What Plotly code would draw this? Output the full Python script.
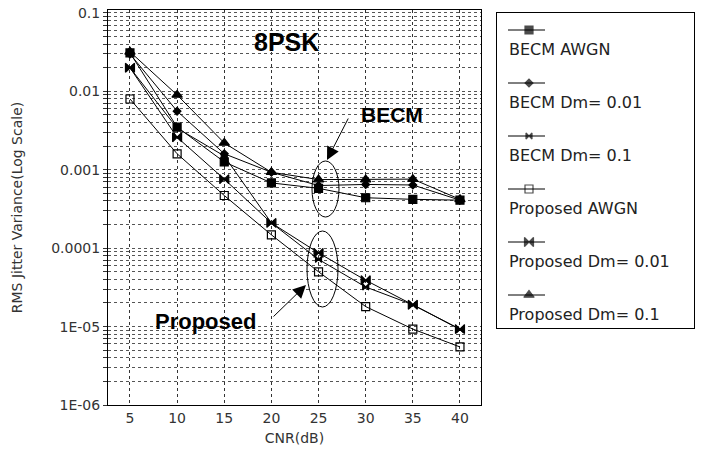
import plotly.graph_objects as go

# ---------------- data ----------------
cnr = [5, 10, 15, 20, 25, 30, 35, 40]

becm_awgn = [0.031, 0.0035, 0.00126, 0.00068, 0.00058, 0.00044, 0.00042, 0.00041]
becm_dm001 = [0.030, 0.0056, 0.0016, 0.00093, 0.00063, 0.00065, 0.00064, 0.00041]
becm_dm01 = [0.020, 0.0034, 0.0015, 0.00021, 7.2e-05, 3.2e-05, 1.9e-05, 9.2e-06]
prop_awgn = [0.0080, 0.0016, 0.00047, 0.000148, 5.0e-05, 1.8e-05, 9.3e-06, 5.5e-06]
prop_dm001 = [0.020, 0.0026, 0.00076, 0.00021, 8.7e-05, 3.9e-05, 1.9e-05, 9.3e-06]
prop_dm01 = [0.032, 0.0090, 0.0022, 0.00093, 0.00075, 0.00075, 0.00076, 0.00042]

series_names = ["BECM AWGN", "BECM Dm= 0.01", "BECM Dm= 0.1",
                "Proposed AWGN", "Proposed Dm= 0.01", "Proposed Dm= 0.1"]
series_values = [becm_awgn, becm_dm001, becm_dm01, prop_awgn, prop_dm001, prop_dm01]
series_symbols = ["square", "diamond", "bowtie", "square-open", "bowtie", "triangle-up"]
series_sizes = [8, 6, 6, 8, 9, 9]

x_ticks = [5, 10, 15, 20, 25, 30, 35, 40]
y_major = [1e-06, 1e-05, 1e-04, 1e-03, 1e-02, 1e-01]
y_major_labels = ["1E-06", "1E-05", "0.0001", "0.001", "0.01", "0.1"]

# ---------------- geometry (page pixels; body margin removed) ----------------
W, H = 706, 455
PLOT_L, PLOT_R, PLOT_T, PLOT_B = 108, 696, 10, 405  # pixels of the paper area
ML, MT = PLOT_L, PLOT_T
MR, MB = W - PLOT_R, H - PLOT_B
PW, PH = PLOT_R - PLOT_L, PLOT_B - PLOT_T


def pxx(px):
    return (px - PLOT_L) / PW


def pxy(py):
    return (PLOT_B - py) / PH


FONT = "DejaVu Sans, Arial, sans-serif"
BOLD = "Liberation Sans, Arial, sans-serif"

# minor + major gridline positions on log axis
y_tickvals, y_ticktext = [], []
for k, major in enumerate(y_major):
    for m in range(1, 10):
        v = m * major
        if v > 0.1001:
            break
        y_tickvals.append(v)
        y_ticktext.append(y_major_labels[k] if m == 1 else "")

fig = go.Figure()

for name, vals, sym, sz in zip(series_names, series_values, series_symbols, series_sizes):
    fig.add_trace(go.Scatter(
        x=cnr, y=vals, mode="lines+markers", name=name, showlegend=False,
        line=dict(color="black", width=1),
        marker=dict(symbol=sym, size=sz, color="black",
                    line=dict(color="black", width=1.2)),
        xaxis="x", yaxis="y",
    ))

# ---------------- manual legend (sample above text) ----------------
row_h = 53
for i, (name, sym, sz) in enumerate(zip(series_names, series_symbols, series_sizes)):
    ys = 17 + row_h * i
    fig.add_trace(go.Scatter(
        x=[11, 32, 48], y=[ys, ys, ys], mode="lines+markers", showlegend=False,
        line=dict(color="black", width=1),
        marker=dict(symbol=sym, size=[0, sz, 0], color="black",
                    line=dict(color="black", width=1.2)),
        xaxis="x2", yaxis="y2", hoverinfo="skip",
    ))
    fig.add_annotation(x=10, y=36 + row_h * i, xref="x2", yref="y2", text=name,
                       showarrow=False, xanchor="left", yanchor="middle",
                       font=dict(family=FONT, size=16, color="#222"))

annotations_main = [
    dict(text="<b>8PSK</b>", x=286, y=42, size=25),
    dict(text="<b>BECM</b>", x=392, y=115, size=21),
    dict(text="<b>Proposed</b>", x=205, y=321, size=22),
]
for a in annotations_main:
    fig.add_annotation(x=pxx(a["x"]), y=pxy(a["y"]), xref="paper", yref="paper",
                       text=a["text"], showarrow=False, xanchor="center", yanchor="middle",
                       font=dict(family=BOLD, size=a["size"], color="black"))

# arrows (head position, tail position in pixels)
arrows = [((327, 160), (349, 117)), ((306, 285), (272, 318))]
for (hx, hy), (tx, ty) in arrows:
    fig.add_annotation(x=pxx(hx), y=pxy(hy), xref="paper", yref="paper",
                       ax=tx - hx, ay=ty - hy, axref="pixel", ayref="pixel",
                       text="", showarrow=True, arrowhead=2,
                       arrowsize=2.6, arrowwidth=1, arrowcolor="black")

# ellipses
fig.add_shape(type="circle", xref="paper", yref="paper", x0=pxx(312), x1=pxx(339),
              y0=pxy(217), y1=pxy(161), line=dict(color="black", width=1))
fig.add_shape(type="circle", xref="paper", yref="paper", x0=pxx(307), x1=pxx(338),
              y0=pxy(307), y1=pxy(231), line=dict(color="black", width=1))

fig.update_layout(
    width=W, height=H,
    margin=dict(l=ML, r=MR, t=MT, b=MB, autoexpand=False),
    paper_bgcolor="white", plot_bgcolor="white",
    hovermode=False,
    xaxis=dict(domain=[0, pxx(481)], range=[2.67, 42.23], tickvals=x_ticks,
               ticktext=[str(t) for t in x_ticks],
               showgrid=True, gridcolor="#333", griddash="dot", gridwidth=1,
               showline=True, linecolor="black", linewidth=1, mirror=True,
               ticks="", zeroline=False,
               tickfont=dict(family=FONT, size=14, color="#333"),
               title=dict(text="CNR(dB)", font=dict(family=FONT, size=14, color="#333"),
                          standoff=8)),
    yaxis=dict(type="log", range=[-6, -0.962], tickvals=y_tickvals, ticktext=y_ticktext,
               showgrid=True, gridcolor="#555", griddash="dot", gridwidth=1,
               showline=True, linecolor="black", linewidth=1, mirror=True,
               ticks="outside", ticklen=4, tickcolor="#333", zeroline=False,
               ticklabeloverflow="allow",
               tickfont=dict(family=FONT, size=14, color="#333"),
               title=dict(text="RMS Jitter Variance(Log Scale)",
                          font=dict(family=FONT, size=14, color="#333"), standoff=25)),
    xaxis2=dict(domain=[pxx(497), pxx(694)], range=[0, 197], anchor="y2",
                showgrid=False, zeroline=False, showticklabels=False, ticks="",
                showline=True, linecolor="black", linewidth=1, mirror=True, fixedrange=True),
    yaxis2=dict(domain=[pxy(328), pxy(13)], range=[315, 0], anchor="x2",
                showgrid=False, zeroline=False, showticklabels=False, ticks="",
                showline=True, linecolor="black", linewidth=1, mirror=True, fixedrange=True),
)

fig.write_html("out.html", config={"displayModeBar": False},
               post_script="document.body.style.margin='0px';")
